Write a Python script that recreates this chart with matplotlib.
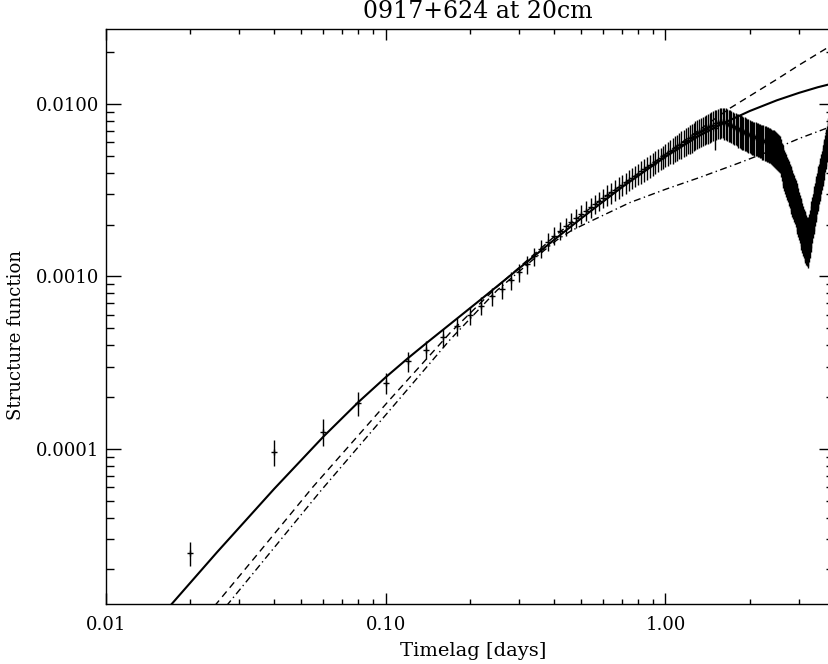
import numpy as np
import matplotlib
matplotlib.use("Agg")
import matplotlib.pyplot as plt
from matplotlib.ticker import FixedLocator, FixedFormatter, LogLocator, NullFormatter

plt.rcParams['font.family'] = ['DejaVu Serif']

# timelag bins, 0.02 days apart
lag = np.round(np.arange(1, 192) * 0.02, 2)

sf = [
    0.025, 0.0965, 0.126, 0.185, 0.241, 0.322, 0.376, 0.445, 0.515, 0.596,
    0.678, 0.767, 0.845, 0.950, 1.06, 1.18, 1.31, 1.45, 1.59, 1.72,
    1.84, 1.96, 2.08, 2.19, 2.30, 2.41, 2.52, 2.63, 2.74, 2.85,
    2.96, 3.07, 3.18, 3.29, 3.40, 3.51, 3.62, 3.73, 3.84, 3.95,
    4.06, 4.17, 4.29, 4.40, 4.51, 4.63, 4.74, 4.86, 4.97, 5.08,
    5.20, 5.31, 5.43, 5.54, 5.66, 5.77, 5.88, 6.00, 6.11, 6.22,
    6.33, 6.44, 6.55, 6.66, 6.77, 6.87, 6.97, 7.07, 7.16, 7.25,
    7.33, 7.42, 7.50, 7.58, 7.30, 7.72, 7.80, 7.86, 7.90, 7.90,
    7.86, 7.80, 7.74, 7.66, 7.58, 7.50, 7.43, 7.36, 7.29, 7.22,
    7.16, 7.10, 7.04, 6.98, 6.92, 6.86, 6.80, 6.74, 6.68, 6.62,
    6.57, 6.52, 6.48, 6.44, 6.40, 6.36, 6.32, 6.28, 6.24, 6.20,
    6.16, 6.12, 6.08, 6.04, 6.00, 5.96, 5.92, 5.88, 5.83, 5.78,
    5.73, 5.66, 5.59, 5.52, 5.45, 5.38, 5.31, 5.24, 5.00, 4.78,
    4.60, 4.43, 4.27, 4.13, 4.00, 3.87, 3.74, 3.62, 3.50, 3.39,
    3.28, 3.17, 3.07, 2.97, 2.87, 2.77, 2.67, 2.57, 2.47, 2.37,
    2.25, 2.17, 2.09, 2.01, 1.94, 1.87, 1.81, 1.76, 1.72, 1.68,
    1.65, 1.68, 1.76, 1.86, 1.98, 2.10, 2.22, 2.34, 2.47, 2.60,
    2.73, 2.86, 3.00, 3.14, 3.28, 3.42, 3.56, 3.70, 3.87, 4.05,
    4.25, 4.45, 4.65, 4.86, 5.08, 5.30, 5.52, 5.76, 6.02, 6.30, 6.75,
]

# relative errors of the points
sf_relerr = [
    0.16, 0.17, 0.18, 0.16, 0.14, 0.13, 0.12, 0.12, 0.12, 0.12,
    0.12, 0.12, 0.12, 0.12, 0.12, 0.12, 0.12, 0.12, 0.12, 0.12,
    0.12, 0.12, 0.12, 0.13, 0.13, 0.13, 0.13, 0.13, 0.13, 0.13,
    0.14, 0.14, 0.14, 0.14, 0.14, 0.14, 0.14, 0.14, 0.14, 0.14,
    0.15, 0.15, 0.15, 0.15, 0.15, 0.15, 0.15, 0.15, 0.15, 0.15,
    0.16, 0.16, 0.17, 0.17, 0.17, 0.17, 0.18, 0.18, 0.18, 0.18,
    0.19, 0.19, 0.19, 0.19, 0.19, 0.19, 0.19, 0.19, 0.19, 0.19,
    0.20, 0.20, 0.20, 0.20, 0.26, 0.20, 0.20, 0.20, 0.20, 0.20,
    0.21, 0.21, 0.21, 0.21, 0.21, 0.21, 0.21, 0.21, 0.21, 0.21,
    0.22, 0.22, 0.22, 0.22, 0.22, 0.22, 0.22, 0.22, 0.22, 0.22,
    0.22, 0.22, 0.22, 0.22, 0.22, 0.22, 0.22, 0.22, 0.22, 0.22,
    0.23, 0.23, 0.23, 0.23, 0.23, 0.23, 0.23, 0.23, 0.23, 0.23,
    0.24, 0.24, 0.24, 0.24, 0.24, 0.24, 0.24, 0.24, 0.25, 0.25,
    0.26, 0.26, 0.27, 0.27, 0.28, 0.28, 0.28, 0.29, 0.29, 0.29,
    0.30, 0.30, 0.30, 0.30, 0.30, 0.30, 0.31, 0.31, 0.31, 0.31,
    0.31, 0.31, 0.32, 0.32, 0.32, 0.32, 0.32, 0.32, 0.32, 0.32,
    0.32, 0.32, 0.31, 0.31, 0.30, 0.30, 0.30, 0.29, 0.29, 0.29,
    0.28, 0.28, 0.28, 0.27, 0.27, 0.27, 0.26, 0.26, 0.26, 0.26,
    0.25, 0.25, 0.25, 0.25, 0.24, 0.24, 0.24, 0.24, 0.23, 0.23, 0.23,
]

# model curves
solid_x = [0.0172, 0.025, 0.04, 0.06, 0.08, 0.10, 0.12, 0.14, 0.17, 0.22,
           0.30, 0.40, 0.50, 0.70, 1.0, 1.3, 1.6, 2.0, 2.5, 3.0, 3.5, 4.0]
solid_y = [1.26e-5, 2.52e-5, 5.87e-5, 1.18e-4, 1.87e-4, 2.60e-4, 3.35e-4,
           4.11e-4, 5.29e-4, 7.4e-4, 1.114e-3, 1.63e-3, 2.17e-3, 3.3e-3,
           4.95e-3, 6.45e-3, 7.7e-3, 9.1e-3, 1.05e-2, 1.16e-2, 1.25e-2,
           1.32e-2]

dash_x = [0.0245, 0.035, 0.0551, 0.1035, 0.170, 0.25, 0.41, 0.6, 0.8, 1.0,
          1.3, 1.7, 2.5, 3.0, 3.83, 4.0]
dash_y = [1.23e-5, 2.47e-5, 6.04e-5, 1.93e-4, 4.71e-4, 8.7e-4, 1.76e-3,
          2.85e-3, 3.95e-3, 5.1e-3, 6.95e-3, 9.45e-3, 1.39e-2, 1.68e-2,
          2.14e-2, 2.23e-2]

dashdot_x = [0.027, 0.059, 0.109, 0.170, 0.25, 0.33, 0.408, 0.46, 0.537,
             0.746, 1.0, 1.326, 1.8, 2.29, 3.0, 3.83, 4.0]
dashdot_y = [1.23e-5, 5.78e-5, 1.85e-4, 4.3e-4, 8.3e-4, 1.22e-3, 1.62e-3,
             1.84e-3, 2.08e-3, 2.68e-3, 3.2e-3, 3.75e-3, 4.5e-3, 5.23e-3,
             6.3e-3, 7.31e-3, 7.5e-3]

sf = np.array(sf) * 1e-3
err = sf * np.array(sf_relerr)

fig = plt.figure(figsize=(8.29, 6.64), dpi=100)
ax = fig.add_axes([0.1275, 0.0904, 0.8785, 0.8655])
ax.set_xscale('log')
ax.set_yscale('log')

ax.errorbar(lag, sf, yerr=err, fmt='+', color='k', ms=5, mew=1,
            elinewidth=1, capsize=0)
ax.plot(solid_x, solid_y, color='k', lw=1.5)
ax.plot(dash_x, dash_y, color='k', lw=1, dashes=(5, 3.5))
ax.plot(dashdot_x, dashdot_y, color='k', lw=1, dashes=(5, 2.5, 1, 2.5))

ax.set_xlim(0.01, 4.0)
ax.set_ylim(1.262e-5, 0.0271)

ax.xaxis.set_major_locator(FixedLocator([0.01, 0.1, 1.0]))
ax.xaxis.set_major_formatter(FixedFormatter(['0.01', '0.10', '1.00']))
ax.xaxis.set_minor_locator(LogLocator(base=10, subs=range(2, 10), numticks=20))
ax.xaxis.set_minor_formatter(NullFormatter())
ax.yaxis.set_major_locator(FixedLocator([1e-4, 1e-3, 1e-2]))
ax.yaxis.set_major_formatter(FixedFormatter(['0.0001', '0.0010', '0.0100']))
ax.yaxis.set_minor_locator(LogLocator(base=10, subs=range(2, 10), numticks=20))
ax.yaxis.set_minor_formatter(NullFormatter())

ax.tick_params(which='both', direction='in', top=True, right=True, width=1)
ax.tick_params(axis='x', which='major', length=7.9, pad=9, labelsize=13)
ax.tick_params(axis='x', which='minor', length=3.6)
ax.tick_params(axis='y', which='major', length=10.8, pad=5, labelsize=13)
ax.tick_params(axis='y', which='minor', length=5.8)
for s in ax.spines.values():
    s.set_linewidth(1)

fig.text(478 / 829, 1 - 11 / 664, '0917+624 at 20cm', ha='center', va='center',
         fontsize=17)
fig.text(473 / 829, 1 - 651 / 664, 'Timelag [days]', ha='center', va='center',
         fontsize=14)
fig.text(16 / 829, 1 - 335 / 664, 'Structure function', ha='center', va='center',
         rotation=90, fontsize=13)

fig.savefig('out.png', dpi=100)
